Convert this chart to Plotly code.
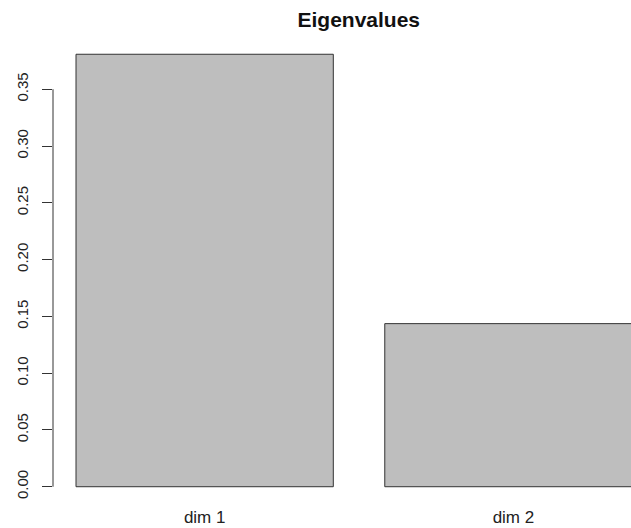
import plotly.graph_objects as go

# eigenvalues
dims = ["dim 1", "dim 2"]
eigenvalues = [0.3808, 0.1436]
y_ticks = [0.00, 0.05, 0.10, 0.15, 0.20, 0.25, 0.30, 0.35]
y_ticktext = ["0.00", "0.05", "0.10", "0.15", "0.20", "0.25", "0.30", "0.35"]

FONT = "Liberation Sans, Arial, sans-serif"

fig = go.Figure()
fig.add_trace(go.Bar(
    x=dims, y=eigenvalues,
    marker=dict(color="#BEBEBE", line=dict(color="#333333", width=1)),
    hoverinfo="x+y",
))

# R draws the y axis line only across the tick range
fig.add_shape(type="line", xref="paper", yref="y",
              x0=0, x1=0, y0=y_ticks[0], y1=y_ticks[-1],
              line=dict(color="#333333", width=1))

fig.update_layout(
    width=631, height=528,
    margin=dict(l=53, r=0, t=37, b=23),
    paper_bgcolor="white", plot_bgcolor="white",
    bargap=1 / 6,
    showlegend=False,
    title=dict(text="<b>Eigenvalues</b>", x=0.529, xref="paper",
               y=1 - 20 / 528, yref="container", yanchor="middle", xanchor="center",
               font=dict(family=FONT, size=21, color="#111111")),
    font=dict(family=FONT, color="#222222"),
)
fig.update_xaxes(
    range=[-0.4912, 1.3808], showgrid=False, zeroline=False, showline=False,
    ticks="", automargin=False,
    tickfont=dict(size=17, family=FONT, color="#222222"),
)
fig.update_yaxes(
    range=[-0.0161, 0.396], showgrid=False, zeroline=False, showline=False,
    tickvals=y_ticks, ticktext=y_ticktext, ticks="outside", ticklen=10,
    tickwidth=1, tickcolor="#333333", tickangle=-90, ticklabelstandoff=8,
    automargin=False,
    tickfont=dict(size=15, family=FONT, color="#222222"),
)

# drop the default 8px body margin so the figure fills the window exactly
fig.write_html("out.html", config={"displayModeBar": False},
               post_script="document.body.style.margin='0';")
